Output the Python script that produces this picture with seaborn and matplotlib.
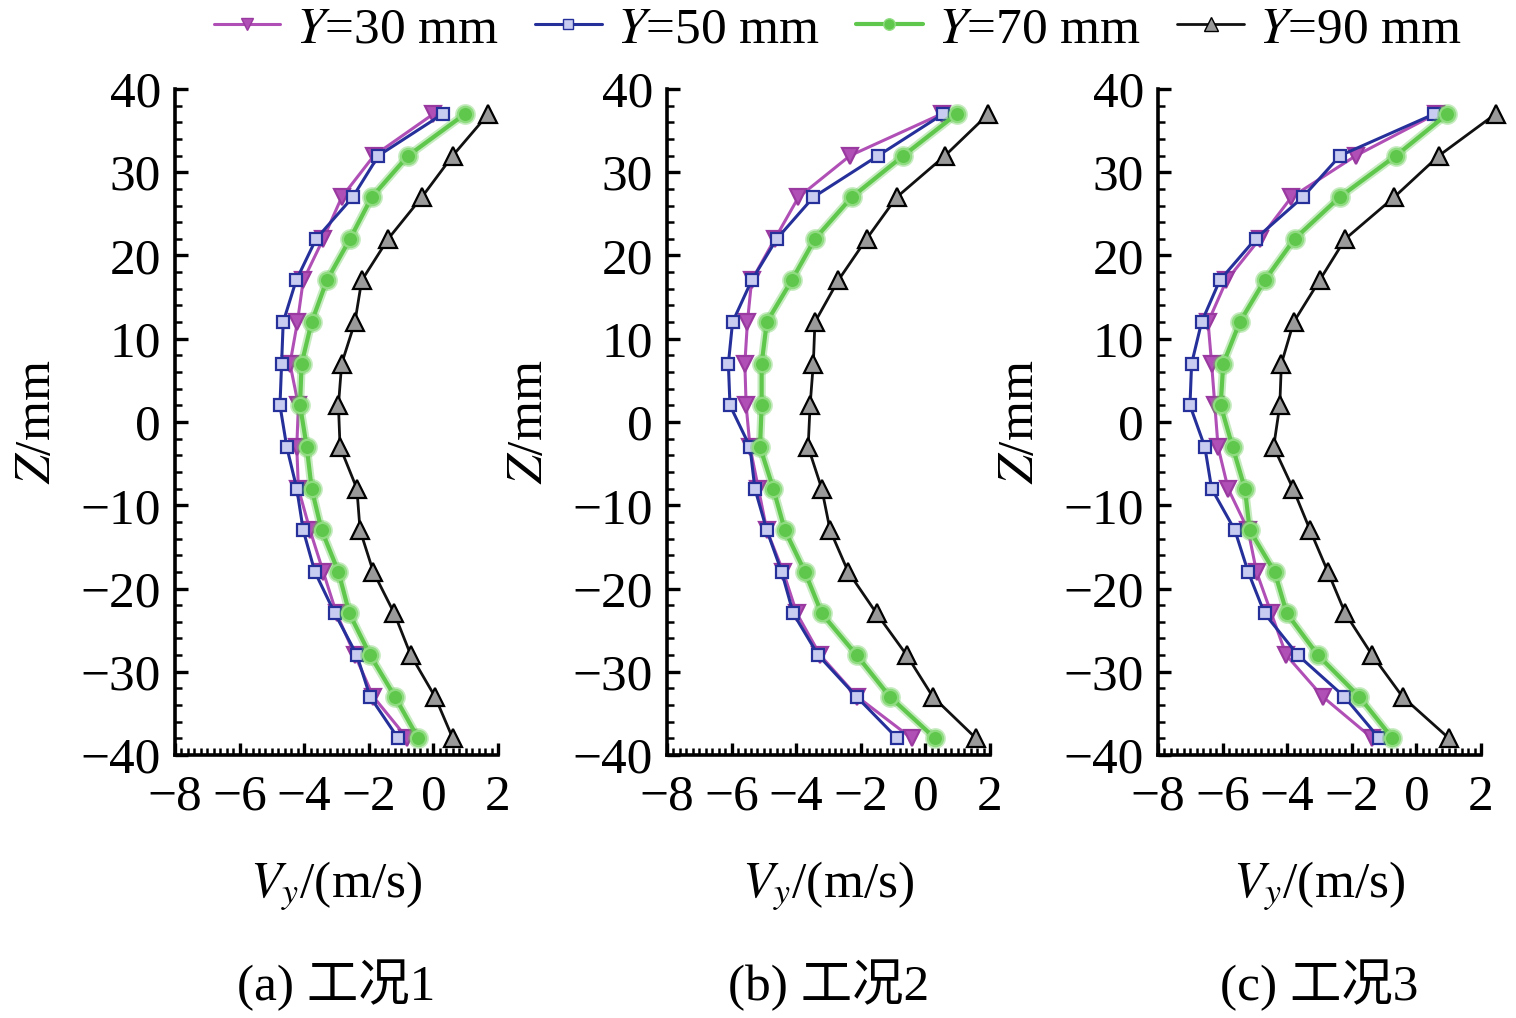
import numpy as np
import pandas as pd
import matplotlib
matplotlib.use("Agg")
import matplotlib.pyplot as plt
import seaborn as sns
from matplotlib.ticker import MultipleLocator
from matplotlib.lines import Line2D

# ---------------- data ----------------
z_mm = [37, 32, 27, 22, 17, 12, 7, 2, -3, -8, -13, -18, -23, -28, -33, -38]

series_labels = ["$Y$=30 mm", "$Y$=50 mm", "$Y$=70 mm", "$Y$=90 mm"]
captions = ["(a) 工况1", "(b) 工况2", "(c) 工况3"]

# case 1
a_y30 = [0.00, -1.84, -2.84, -3.41, -4.03, -4.21, -4.44, -4.18, -4.23, -4.18, -3.82, -3.41, -3.00, -2.43, -1.86, -0.81]
a_y50 = [0.29, -1.70, -2.50, -3.63, -4.25, -4.65, -4.70, -4.75, -4.54, -4.23, -4.03, -3.67, -3.05, -2.37, -1.96, -1.09]
a_y70 = [0.98, -0.78, -1.91, -2.58, -3.30, -3.77, -4.08, -4.13, -3.92, -3.77, -3.46, -2.94, -2.60, -1.96, -1.19, -0.47]
a_y90 = [1.70, 0.60, -0.36, -1.40, -2.22, -2.43, -2.84, -2.94, -2.89, -2.37, -2.27, -1.86, -1.21, -0.70, 0.05, 0.60]
# case 2
b_y30 = [0.50, -2.33, -3.93, -4.66, -5.38, -5.51, -5.59, -5.55, -5.43, -5.17, -4.91, -4.40, -3.98, -3.26, -2.11, -0.42]
b_y50 = [0.55, -1.46, -3.47, -4.60, -5.38, -5.97, -6.10, -6.05, -5.43, -5.28, -4.91, -4.45, -4.09, -3.32, -2.13, -0.87]
b_y70 = [0.97, -0.68, -2.28, -3.42, -4.14, -4.91, -5.07, -5.07, -5.12, -4.71, -4.35, -3.73, -3.21, -2.13, -1.10, 0.30]
b_y90 = [1.95, 0.61, -0.89, -1.82, -2.70, -3.42, -3.47, -3.57, -3.63, -3.21, -2.95, -2.39, -1.51, -0.58, 0.23, 1.57]
# case 3
c_y30 = [0.60, -1.87, -3.87, -4.85, -5.88, -6.45, -6.34, -6.24, -6.14, -5.83, -5.21, -4.95, -4.49, -4.03, -2.90, -1.36]
c_y50 = [0.55, -2.36, -3.52, -4.98, -6.09, -6.65, -6.96, -7.01, -6.55, -6.34, -5.62, -5.21, -4.70, -3.67, -2.23, -1.15]
c_y70 = [0.96, -0.63, -2.38, -3.77, -4.70, -5.47, -5.98, -6.06, -5.69, -5.31, -5.16, -4.39, -4.01, -3.05, -1.77, -0.74]
c_y90 = [2.45, 0.70, -0.69, -2.20, -3.00, -3.80, -4.18, -4.23, -4.42, -3.82, -3.29, -2.74, -2.20, -1.37, -0.43, 1.01]

x_ticks = [-8, -6, -4, -2, 0, 2]
y_ticks = [-40, -30, -20, -10, 0, 10, 20, 30, 40]

# ---------------- style ----------------
sns.set_style("ticks")
plt.rcParams["font.family"] = ["Liberation Serif", "Noto Sans CJK SC"]
plt.rcParams["mathtext.fontset"] = "stix"
plt.rcParams["axes.unicode_minus"] = True
for k in ["text.color", "axes.labelcolor", "xtick.color", "ytick.color", "axes.edgecolor"]:
    plt.rcParams[k] = "black"
FS = 37

styles = [
    dict(color="#b04fb6", marker="v", ms=12, mfc="#b04fb6", mec="#9a3aa0", lw=2.2),
    dict(color="#26309a", marker="s", ms=9, mfc="#c8ccf0", mec="#26309a", lw=2.2),
    dict(color="#5fc84c", marker="o", ms=11, mfc="#5fc84c", mec="#8fdc80", lw=3.0),
    dict(color="#111111", marker="^", ms=13, mfc="#9a9a9a", mec="#000000", lw=2.0),
]

panels = [[a_y30, a_y50, a_y70, a_y90],
          [b_y30, b_y50, b_y70, b_y90],
          [c_y30, c_y50, c_y70, c_y90]]

W, H = 1516, 1018
fig = plt.figure(figsize=(W / 100, H / 100), dpi=100)

lefts_px = [175, 667, 1158]
ax_w_px = 323
top_px, bot_px = 89, 755

for i, (left, pdata) in enumerate(zip(lefts_px, panels)):
    ax = fig.add_axes([left / W, 1 - bot_px / H, ax_w_px / W, (bot_px - top_px) / H])
    for vals, st, lab in zip(pdata, styles, series_labels):
        df = pd.DataFrame({"V": vals, "Z": z_mm})
        if st["marker"] == "o":
            # soft halo of the green curve
            sns.lineplot(data=df, x="V", y="Z", orient="y", sort=False, estimator=None,
                         color=st["color"], alpha=0.35, linewidth=6, marker="o",
                         markersize=st["ms"] + 4, markeredgewidth=0,
                         ax=ax, legend=False, clip_on=False)
        sns.lineplot(data=df, x="V", y="Z", orient="y", sort=False, estimator=None,
                     color=st["color"], linewidth=st["lw"], marker=st["marker"],
                     markersize=st["ms"], markerfacecolor=st["mfc"],
                     markeredgecolor=st["mec"], markeredgewidth=1.6,
                     ax=ax, legend=False, clip_on=False)
    ax.set_xlim(-8, 2)
    ax.set_ylim(-40, 40)
    ax.set_xticks(x_ticks)
    ax.set_yticks(y_ticks)
    ax.xaxis.set_minor_locator(MultipleLocator(0.2))
    ax.yaxis.set_minor_locator(MultipleLocator(2))
    for s in ["top", "right"]:
        ax.spines[s].set_visible(False)
    for s in ["left", "bottom"]:
        ax.spines[s].set_linewidth(2.6)
        ax.spines[s].set_color("black")
    ax.tick_params(axis="both", which="both", bottom=True, left=True, top=False, right=False)
    ax.tick_params(axis="both", which="major", direction="in", length=9, width=2.4,
                   labelsize=FS, colors="black")
    ax.tick_params(axis="both", which="minor", direction="in", length=5, width=1.8,
                   colors="black")
    ax.tick_params(axis="x", which="major", pad=14)
    ax.tick_params(axis="y", which="major", pad=10)
    ax.set_xlabel("$V_y$/(m/s)", fontsize=FS, labelpad=28)
    ax.set_ylabel("$Z$/mm", fontsize=FS, labelpad=14)
    ax.grid(False)
    fig.text((left + ax_w_px / 2) / W, 1 - 985 / H, captions[i], fontsize=FS,
             ha="center", va="center")

handles = [Line2D([0], [0], color=st["color"], lw=st["lw"], marker=st["marker"],
                  markersize=st["ms"] * 0.75, markerfacecolor=st["mfc"],
                  markeredgecolor=st["mec"]) for st in styles]
fig.legend(handles, series_labels, loc="center", bbox_to_anchor=(838 / W, 1 - 30 / H),
           ncol=4, frameon=False, fontsize=FS, handlelength=1.3, handletextpad=0.3,
           columnspacing=0.7, borderaxespad=0, borderpad=0)

fig.savefig("out.png", dpi=100)
